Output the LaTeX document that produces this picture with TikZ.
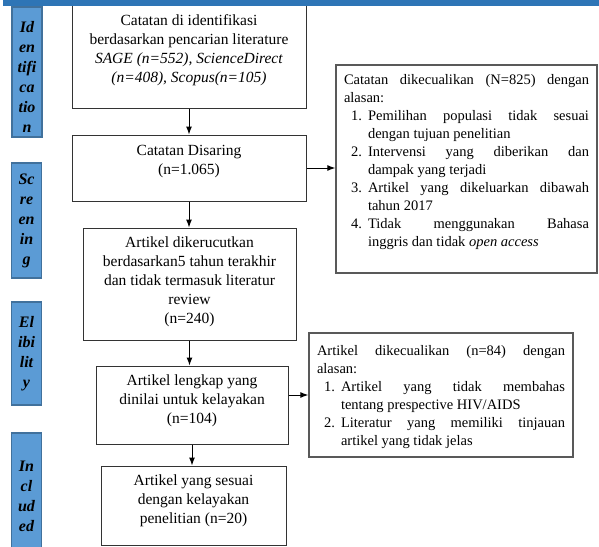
\documentclass[tikz,border=0pt]{standalone}
\usepackage{fontspec}
\setmainfont{Liberation Serif}
\usepackage{enumitem}
\usetikzlibrary{positioning,arrows.meta}

\definecolor{stageblue}{HTML}{5B9BD5}
\definecolor{stageedge}{HTML}{41719C}
\definecolor{topblue}{HTML}{2E75B6}
\definecolor{notegray}{HTML}{595959}

\begin{document}
\begin{tikzpicture}[
    x=1pt, y=-1pt,
    box/.style={
        rectangle,
        draw=black!80,
        line width=1pt,
        align=center,
        inner sep=0pt,
        font=\fontsize{15.5}{19}\selectfont
    },
    note/.style={
        rectangle,
        draw=notegray,
        line width=1.4pt,
        align=justify,
        inner xsep=8pt,
        inner ysep=0pt,
        font=\fontsize{14.5}{18}\selectfont
    },
    stage/.style={
        rectangle,
        draw=stageedge,
        line width=1.2pt,
        fill=stageblue,
        align=center,
        minimum width=30pt,
        inner sep=0pt,
        font=\fontsize{16}{20}\selectfont\bfseries\itshape
    },
    arrow/.style={
        -{Latex[length=8pt,width=6pt]},
        line width=1pt
    }
]

\useasboundingbox (0,0) rectangle (599,546);

% stage labels on the left
\node[stage, minimum height=130pt, text height=121pt] (ident) at (27,72) {Id\\en\\tifi\\ca\\tio\\n};
\node[stage, minimum height=115pt] (screen) at (26.5,220.5) {Sc\\re\\en\\in\\g};
\node[stage, minimum height=103pt] (elig) at (26.5,353.5) {El\\ibi\\lit\\y};
\node[stage, minimum height=127pt] (incl) at (26.5,496.5) {In\\cl\\ud\\ed};

% main flow
\node[box, minimum width=234pt, minimum height=105pt, text depth=14pt] (found) at (189,55.5)
{Catatan di identifikasi\\
berdasarkan pencarian literature\\
\textit{SAGE (n=552), ScienceDirect}\\
\textit{(n=408), Scopus(n=105)}};

\node[box, minimum width=234pt, minimum height=66pt, text depth=17pt] (screened) at (189,168)
{Catatan Disaring\\
(n=1.065)};

\node[box, minimum width=213pt, minimum height=112pt, text depth=7pt] (narrowed) at (189.5,284)
{Artikel dikerucutkan\\
berdasarkan5 tahun terakhir\\
dan tidak termasuk literatur\\
review\\
(n=240)};

\node[box, minimum width=192pt, minimum height=78pt, text depth=11pt] (fulltext) at (192,405)
{Artikel lengkap yang\\
dinilai untuk kelayakan\\
(n=104)};

\node[box, minimum width=185pt, minimum height=79pt, text depth=12pt] (included) at (193.5,505.5)
{Artikel yang sesuai\\
dengan kelayakan\\
penelitian (n=20)};

% exclusion notes
\node[note, text width=245pt, minimum height=208pt, text depth=180pt] (excl1) at (466.5,169)
{Catatan dikecualikan (N=825) dengan\linebreak alasan:
\begin{enumerate}[leftmargin=24pt,labelsep=6pt,topsep=0pt,partopsep=0pt,itemsep=0pt,parsep=0pt]
\item Pemilihan populasi tidak sesuai\linebreak dengan tujuan penelitian
\item Intervensi yang diberikan dan\linebreak dampak yang terjadi
\item Artikel yang dikeluarkan dibawah\linebreak tahun 2017
\item Tidak menggunakan Bahasa\linebreak inggris dan tidak \textit{open access}
\end{enumerate}};

\node[note, text width=248pt, minimum height=124pt, text depth=90pt] (excl2) at (441,395)
{Artikel dikecualikan (n=84) dengan\linebreak alasan:
\begin{enumerate}[leftmargin=24pt,labelsep=6pt,topsep=0pt,partopsep=0pt,itemsep=0pt,parsep=0pt]
\item Artikel yang tidak membahas\linebreak tentang prespective HIV/AIDS
\item Literatur yang memiliki tinjauan\linebreak artikel yang tidak jelas
\end{enumerate}};

% connectors
\draw[arrow] (found) -- (screened);
\draw[arrow] (screened.south) -- (screened.south |- narrowed.north);
\draw[arrow] (narrowed.south) -- (narrowed.south |- fulltext.north);
\draw[arrow] (fulltext.south) -- (fulltext.south |- included.north);
\draw[arrow] (screened.east) -- (screened.east -| excl1.west);
\draw[arrow] (excl2.west -| fulltext.east) -- (excl2.west);

% top band
\fill[topblue] (3,0) rectangle (599,6);

\end{tikzpicture}
\end{document}
